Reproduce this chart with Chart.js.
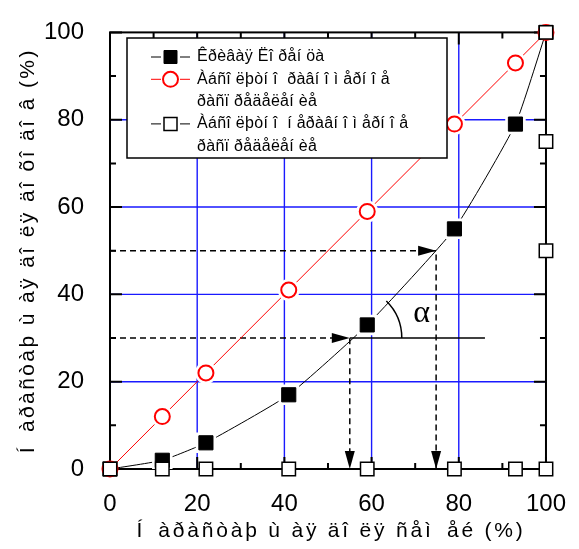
<!DOCTYPE html>
<html>
<head>
<meta charset="utf-8">
<script src="https://cdn.jsdelivr.net/npm/chart.js@4.4.0/dist/chart.umd.min.js"></script>
<style>
  html, body { margin: 0; padding: 0; background: #fff; }
</style>
</head>
<body>
<canvas id="lorenzChart" width="579" height="549"></canvas>
<script>
// cumulative share of families (x) vs cumulative share of income (y), %
var lorenzX = [0, 12, 22, 41, 59, 79, 93, 100];
var lorenzY = [0, 2, 6, 17, 33, 55, 79, 100];
var equalX = [0, 12, 22, 41, 59, 79, 93, 100];
var equalY = [0, 12, 22, 41, 59, 79, 93, 100];
var unequalX = [0, 12, 22, 41, 59, 79, 93, 100, 100, 100, 100];
var unequalY = [0, 0, 0, 0, 0, 0, 0, 0, 50, 75, 100];

var seriesLabels = [
  ['Êðèâàÿ Ëî ðåí öà'],
  ['Àáñî ëþòí î  ðàâí î ì åðí î å', 'ðàñï ðåäåëåí èå'],
  ['Àáñî ëþòí î  í åðàâí î ì åðí î å', 'ðàñï ðåäåëåí èå']
];
var xTitle = 'Í\u2002àðàñòàþ ù àÿ äî ëÿ ñåì\u2002åé (%)';
var yTitle = 'Í\u2002àðàñòàþ ù àÿ äî ëÿ äî õî äî â (%)';
var axisTicks = [0, 20, 40, 60, 80, 100];

// reading guides (dashed arrows) and the tangent with angle alpha
var guideX = [[0, 74.8, 74.8], [0, 55, 55]];
var guideY = [[50, 50, 0], [30, 30, 0]];
var tangentX = [55, 86];
var tangentY = [30, 30];
var alphaLabel = 'α';

Chart.defaults.font.family = '"Liberation Sans", Arial, sans-serif';
Chart.defaults.color = '#000';

function toPoints(xs, ys) {
  return xs.map(function (x, i) { return { x: x, y: ys[i] }; });
}

// no halo at the corners, so the frame stays whole there
function haloRadius(r) {
  return function (ctx) {
    var v = ctx.raw;
    return (v && (v.x === 0 || v.x === 100)) ? 0 : r;
  };
}

var datasets = [];

guideX.forEach(function (gx, i) {
  datasets.push({
    label: 'guide' + i, data: toPoints(gx, guideY[i]), showLine: true,
    borderColor: '#000', borderWidth: 1.5, borderDash: [6, 4],
    pointRadius: 0, order: 7
  });
});
datasets.push({
  label: 'tangent', data: toPoints(tangentX, tangentY), showLine: true,
  borderColor: '#000', borderWidth: 1.5, pointRadius: 0, order: 7
});

// lines
datasets.push({ label: 'lorenzLine', data: toPoints(lorenzX, lorenzY), showLine: true, borderColor: '#000', borderWidth: 1, tension: 0.15, pointRadius: 0, order: 6 });
datasets.push({ label: 'equalLine', data: toPoints(equalX, equalY), showLine: true, borderColor: '#ff0000', borderWidth: 1, pointRadius: 0, order: 6 });
datasets.push({ label: 'unequalLine', data: toPoints(unequalX, unequalY), showLine: true, borderColor: '#000', borderWidth: 1, pointRadius: 0, order: 6 });

// white halos give the gap between line and marker
datasets.push({ label: 'lorenzHalo', data: toPoints(lorenzX, lorenzY), showLine: false, pointStyle: 'rect', pointRadius: haloRadius(14.5), pointBackgroundColor: '#fff', pointBorderWidth: 0, order: 5 });
datasets.push({ label: 'equalHalo', data: toPoints(equalX, equalY), showLine: false, pointStyle: 'circle', pointRadius: haloRadius(11), pointBackgroundColor: '#fff', pointBorderWidth: 0, order: 5 });

// markers
var lorenzMarks = { label: seriesLabels[0], data: toPoints(lorenzX, lorenzY), showLine: false, clip: false, pointStyle: 'rect', pointRadius: 10, pointBackgroundColor: '#000', pointBorderColor: '#000', pointBorderWidth: 1, order: 3 };
var equalMarks = { label: seriesLabels[1], data: toPoints(equalX, equalY), showLine: false, clip: false, pointStyle: 'circle', pointRadius: 7.5, pointBackgroundColor: '#fff', pointBorderColor: '#ff0000', pointBorderWidth: 2, order: 2 };
var unequalMarks = { label: seriesLabels[2], data: toPoints(unequalX, unequalY), showLine: false, clip: false, pointStyle: 'rect', pointRadius: 9.5, pointBackgroundColor: '#fff', pointBorderColor: '#000', pointBorderWidth: 1.5, order: 1 };
datasets.push(lorenzMarks, equalMarks, unequalMarks);

var framePlugin = {
  id: 'frame',
  beforeDatasetsDraw: function (chart) {
    var ctx = chart.ctx, a = chart.chartArea;
    var xs = chart.scales.x, ys = chart.scales.y;
    ctx.save();
    // blue grid at inner ticks
    ctx.strokeStyle = '#1a1aff';
    ctx.lineWidth = 1.4;
    ctx.beginPath();
    axisTicks.slice(1, -1).forEach(function (v) {
      var px = xs.getPixelForValue(v), py = ys.getPixelForValue(v);
      ctx.moveTo(px, a.top); ctx.lineTo(px, a.bottom);
      ctx.moveTo(a.left, py); ctx.lineTo(a.right, py);
    });
    ctx.stroke();
    // frame and inward ticks
    ctx.strokeStyle = '#000';
    ctx.lineWidth = 2;
    ctx.strokeRect(a.left, a.top, a.right - a.left, a.bottom - a.top);
    ctx.beginPath();
    axisTicks.forEach(function (v, i) {
      var vals = [[v, 12]];
      if (i < axisTicks.length - 1) vals.push([(v + axisTicks[i + 1]) / 2, 6]);
      vals.forEach(function (t) {
        var px = xs.getPixelForValue(t[0]), py = ys.getPixelForValue(t[0]);
        ctx.moveTo(px, a.bottom); ctx.lineTo(px, a.bottom - t[1]);
        ctx.moveTo(px, a.top); ctx.lineTo(px, a.top + t[1]);
        ctx.moveTo(a.left, py); ctx.lineTo(a.left + t[1], py);
        ctx.moveTo(a.right, py); ctx.lineTo(a.right - t[1], py);
      });
    });
    ctx.stroke();
    ctx.restore();
  }
};

var annotePlugin = {
  id: 'annote',
  afterDatasetsDraw: function (chart) {
    var ctx = chart.ctx, xs = chart.scales.x, ys = chart.scales.y, a = chart.chartArea;
    ctx.save();
    ctx.fillStyle = '#000';
    // arrow heads at the end of each guide segment
    guideX.forEach(function (gx, g) {
      for (var i = 1; i < gx.length; i++) {
        var x0 = xs.getPixelForValue(gx[i - 1]), y0 = ys.getPixelForValue(guideY[g][i - 1]);
        var x1 = xs.getPixelForValue(gx[i]), y1 = ys.getPixelForValue(guideY[g][i]);
        var ang = Math.atan2(y1 - y0, x1 - x0);
        var len = 18, half = 5;
        ctx.beginPath();
        ctx.moveTo(x1, y1);
        ctx.lineTo(x1 - len * Math.cos(ang) - half * Math.sin(ang), y1 - len * Math.sin(ang) + half * Math.cos(ang));
        ctx.lineTo(x1 - len * Math.cos(ang) + half * Math.sin(ang), y1 - len * Math.sin(ang) - half * Math.cos(ang));
        ctx.closePath();
        ctx.fill();
      }
    });
    // angle arc between tangent and the curve
    var cx = xs.getPixelForValue(tangentX[0]), cy = ys.getPixelForValue(tangentY[0]);
    var ex = xs.getPixelForValue(guideX[0][1]), ey = ys.getPixelForValue(guideY[0][1]);
    var ang2 = Math.atan2(cy - ey, ex - cx);
    ctx.strokeStyle = '#000';
    ctx.lineWidth = 1.5;
    ctx.beginPath();
    ctx.arc(cx, cy, 52, -ang2, 0, false);
    ctx.stroke();
    ctx.font = '32px "Liberation Serif", "DejaVu Serif", serif';
    ctx.textAlign = 'center';
    ctx.textBaseline = 'middle';
    ctx.fillText(alphaLabel, xs.getPixelForValue(71.5), ys.getPixelForValue(35.5));

    // axis titles, widely tracked like the original
    ctx.font = '21px "Liberation Sans", Arial, sans-serif';
    ctx.letterSpacing = '2.8px';
    ctx.fillText(xTitle, (a.left + a.right) / 2 + 3, 531);
    ctx.letterSpacing = '2.4px';
    ctx.translate(28, (a.top + a.bottom) / 2);
    ctx.rotate(-Math.PI / 2);
    ctx.fillText(yTitle, 0, 0);
    ctx.restore();
  }
};

var legendPlugin = {
  id: 'boxLegend',
  afterDraw: function (chart) {
    var ctx = chart.ctx;
    var box = { left: 127, top: 38, right: 447, bottom: 158 };
    ctx.save();
    ctx.fillStyle = '#fff';
    ctx.fillRect(box.left, box.top, box.right - box.left, box.bottom - box.top);
    ctx.strokeStyle = '#000';
    ctx.lineWidth = 1.5;
    ctx.strokeRect(box.left, box.top, box.right - box.left, box.bottom - box.top);
    ctx.font = '16px "Liberation Sans", Arial, sans-serif';
    ctx.letterSpacing = '0.3px';
    ctx.textBaseline = 'middle';
    var y = 57, lineH = 22.3;
    [lorenzMarks, equalMarks, unequalMarks].forEach(function (ds) {
      var col = ds.pointBorderColor === '#ff0000' ? '#ff0000' : '#000';
      ctx.strokeStyle = col;
      ctx.lineWidth = 1;
      ctx.beginPath();
      ctx.moveTo(151, y); ctx.lineTo(161, y);
      ctx.moveTo(180, y); ctx.lineTo(190, y);
      ctx.stroke();
      ctx.lineWidth = ds.pointBorderWidth;
      ctx.fillStyle = ds.pointBackgroundColor;
      ctx.strokeStyle = ds.pointBorderColor;
      ctx.beginPath();
      if (ds.pointStyle === 'circle') {
        ctx.arc(170.5, y, 7.5, 0, Math.PI * 2);
      } else {
        ctx.rect(164, y - 6.5, 13, 13);
      }
      ctx.fill();
      ctx.stroke();
      ctx.fillStyle = '#000';
      ds.label.forEach(function (line) {
        ctx.fillText(line, 197, y);
        y += lineH;
      });
    });
    ctx.restore();
  }
};

new Chart(document.getElementById('lorenzChart').getContext('2d'), {
  type: 'scatter',
  data: { datasets: datasets },
  options: {
    responsive: false,
    animation: false,
    devicePixelRatio: 1,
    layout: { padding: { top: 25, right: 24, bottom: 0, left: 0 } },
    plugins: { legend: { display: false }, tooltip: { enabled: false } },
    scales: {
      x: {
        type: 'linear', min: 0, max: 100,
        afterFit: function (s) { s.height = 80; },
        ticks: { stepSize: 20, font: { size: 24 }, color: '#000', padding: 13 },
        grid: { display: false },
        border: { display: false }
      },
      y: {
        type: 'linear', min: 0, max: 100,
        afterFit: function (s) { s.width = 110; },
        ticks: { stepSize: 20, font: { size: 24 }, color: '#000', padding: 18 },
        grid: { display: false },
        border: { display: false }
      }
    }
  },
  plugins: [framePlugin, annotePlugin, legendPlugin]
});
</script>
</body>
</html>
